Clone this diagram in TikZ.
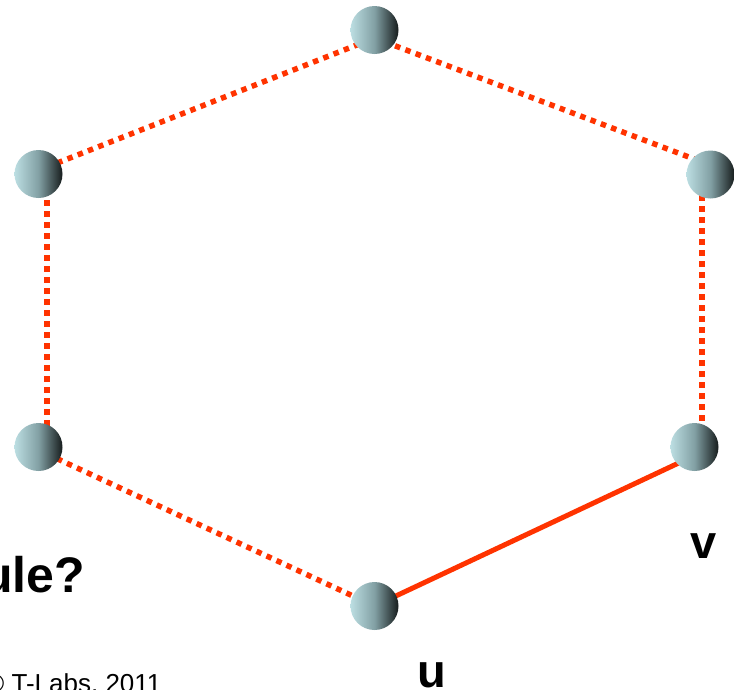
\documentclass[tikz,border=0pt]{standalone}
\usepackage{fontspec}
\setmainfont{Liberation Sans}
\usetikzlibrary{backgrounds}
\definecolor{edgered}{RGB}{255,51,0}
\definecolor{balllight}{RGB}{188,222,226}
\definecolor{ballmid}{RGB}{130,160,164}
\definecolor{balldark}{RGB}{22,28,28}
\tikzset{
  ball/.style={circle, minimum size=48pt, inner sep=0pt, draw=none,
    left color=balllight, right color=balldark, middle color=ballmid},
  dotedge/.style={edgered, line width=5.5pt, dash pattern=on 5.5pt off 5.5pt},
  solidedge/.style={edgered, line width=5pt},
  biglabel/.style={font=\bfseries\fontsize{47}{56}\selectfont, inner sep=0pt},
}
\begin{document}
\begin{tikzpicture}[x=1pt,y=-1pt]
\useasboundingbox (0,0) rectangle (735,689);
% hexagon corners (edge end points)
\coordinate (ca) at (47,167);
\coordinate (cb) at (47,454);
\coordinate (cc) at (374.5,606);
\coordinate (cd) at (702,452);
\coordinate (ce) at (702,162);
\coordinate (cf) at (374.5,38);
% edges
\draw[dotedge] (ca) -- (cf);
\draw[dotedge] (cf) -- (ce);
\draw[dotedge] (ce) -- (cd);
\draw[dotedge] (ca) -- (cb);
\draw[dotedge] (cb) -- (cc);
\draw[solidedge] (cc) -- (cd);
% balls
\node[ball] (top) at (374.5,30) {};
\node[ball] (lt) at (38.5,174) {};
\node[ball] (rt) at (710.5,174.5) {};
\node[ball] (lb) at (38.5,447) {};
\node[ball] (v) at (694.5,447) {};
\node[ball] (u) at (374.5,606) {};
% labels
\node[biglabel, anchor=base] (ulab) at (432,687) {u};
\node[biglabel, anchor=base] (vlab) at (703.5,558) {v};
\node[font=\bfseries\fontsize{50}{60}\selectfont, inner sep=0pt, anchor=base east] (q) at (85,592) {ule?};
\node[font=\fontsize{26}{31}\selectfont, inner sep=0pt, anchor=base west] (copy) at (-15,692.5) {© T-Labs, 2011};
\end{tikzpicture}
\end{document}
